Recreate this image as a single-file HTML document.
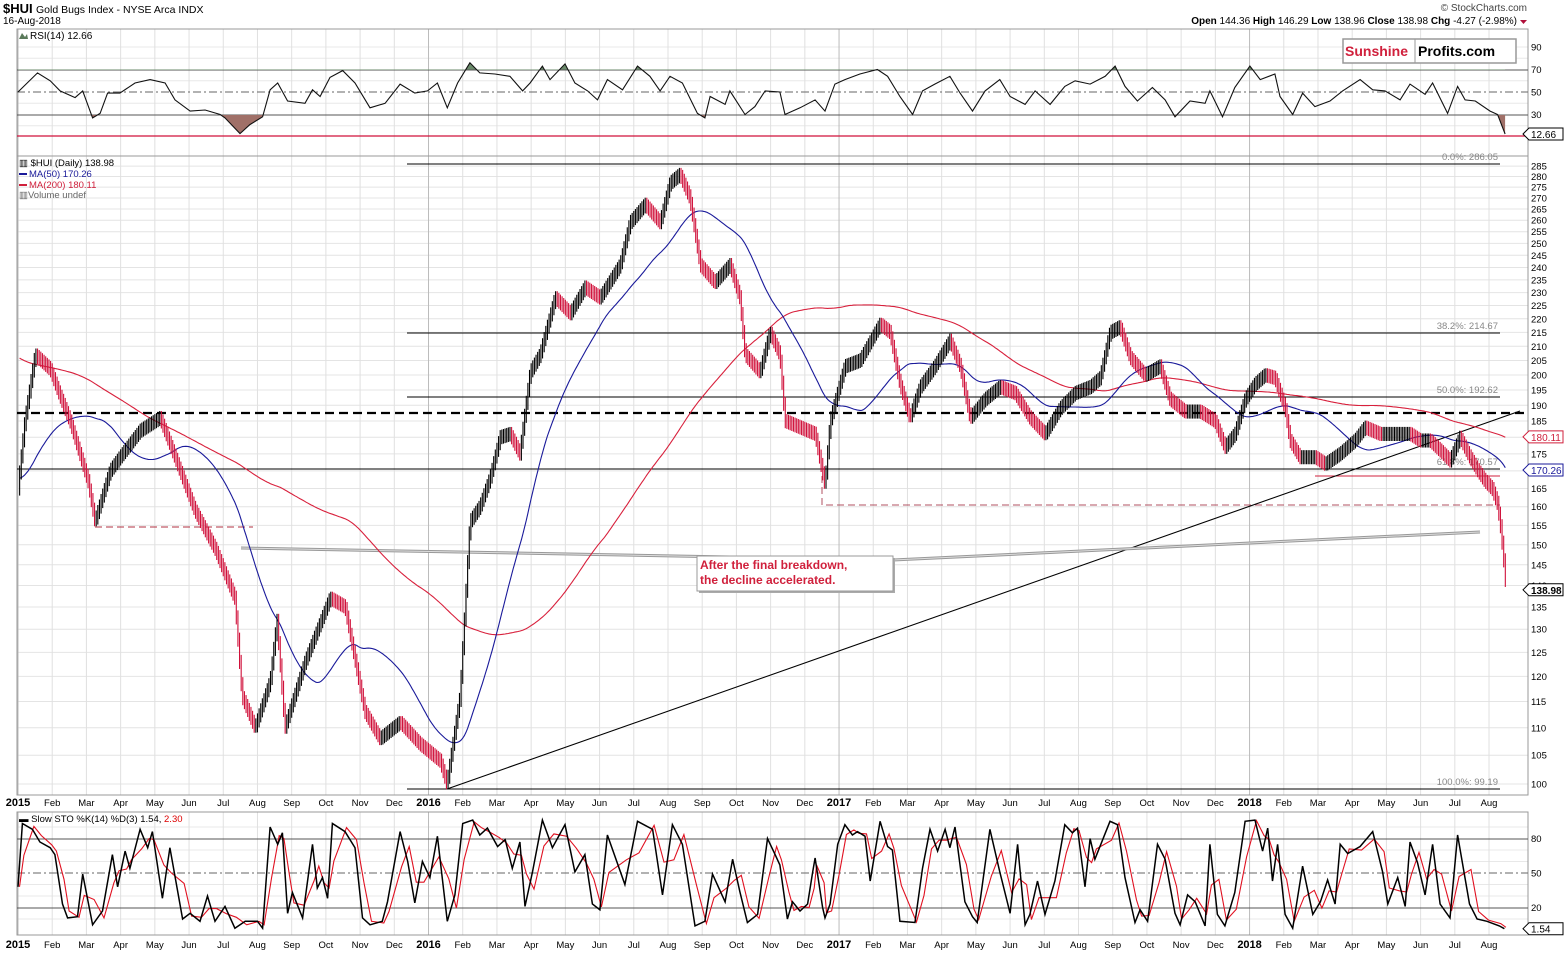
<!DOCTYPE html>
<html><head><meta charset="utf-8"><style>
html,body{margin:0;padding:0;background:#fff;}
svg{display:block;font-family:"Liberation Sans",sans-serif;}
</style></head><body>
<svg id="chart" width="1565" height="953" viewBox="0 0 1565 953" xmlns="http://www.w3.org/2000/svg">
<defs>
<clipPath id="clipBelow30"><rect x="17" y="115" width="1511" height="40"/></clipPath>
<clipPath id="clipAbove70"><rect x="17" y="29" width="1511" height="41"/></clipPath>
</defs>
<rect x="0" y="0" width="1565" height="953" fill="#fff"/>
<g>
<text x="3" y="13" font-size="13" font-weight="bold">$HUI</text>
<text x="36" y="13" font-size="10.5">Gold Bugs Index - NYSE Arca  INDX</text>
<text x="3" y="24" font-size="10">16-Aug-2018</text>
<text x="1527" y="11" font-size="10" text-anchor="end" fill="#444">© StockCharts.com</text>
<text x="1517" y="24" font-size="10" text-anchor="end"><tspan font-weight="bold">Open</tspan> 144.36 <tspan font-weight="bold">High</tspan> 146.29 <tspan font-weight="bold">Low</tspan> 138.96 <tspan font-weight="bold">Close</tspan> 138.98 <tspan font-weight="bold">Chg</tspan> -4.27 (-2.98%)</text>
<path d="M1520,20 L1527,20 L1523.5,24 Z" fill="#b0103a"/>
</g>
<g id="grid"></g>
<rect x="17" y="29" width="1511" height="127" fill="none" stroke="#999"/>
<rect x="17" y="156" width="1511" height="639" fill="none" stroke="#999"/>
<rect x="17" y="812" width="1511" height="123" fill="none" stroke="#999"/>
<g>
<line x1="17" x2="1528" y1="70" y2="70" stroke="#555"/>
<line x1="17" x2="1528" y1="92" y2="92" stroke="#666" stroke-dasharray="8,3,2,3"/>
<line x1="17" x2="1528" y1="115" y2="115" stroke="#555"/>
<line x1="17" x2="1528" y1="136" y2="136" stroke="#d0103a" stroke-width="1.3"/>
</g>
<g><path d="M19,39 L22,33 L25,37 L27,34 L28,39 Z" fill="#5a7a5a"/><text x="30" y="39" font-size="10">RSI(14) 12.66</text></g>
<g id="rsiG"></g>
<g>
<rect x="1343" y="39" width="173" height="24" fill="#fff" stroke="#999" stroke-width="1.5"/>
<line x1="1415" x2="1415" y1="39" y2="63" stroke="#999"/>
<text x="1345" y="56" font-size="14" font-weight="bold" fill="#d0203c">Sunshine</text>
<text x="1418" y="56" font-size="14" font-weight="bold" fill="#000">Profits.com</text>
</g>
<g>
<line x1="407" x2="1500" y1="164" y2="164" stroke="#000"/>
<line x1="407" x2="1500" y1="333" y2="333" stroke="#000"/>
<line x1="407" x2="1500" y1="397" y2="397" stroke="#000"/>
<line x1="17" x2="1500" y1="469" y2="469" stroke="#000"/>
<line x1="407" x2="1500" y1="789" y2="789" stroke="#000"/>
<text x="1498" y="160" font-size="9.5" fill="#888" text-anchor="end">0.0%: 286.05</text>
<text x="1498" y="329" font-size="9.5" fill="#888" text-anchor="end">38.2%: 214.67</text>
<text x="1498" y="393" font-size="9.5" fill="#888" text-anchor="end">50.0%: 192.62</text>
<text x="1498" y="465" font-size="9.5" fill="#888" text-anchor="end">61.8%: 170.57</text>
<text x="1498" y="785" font-size="9.5" fill="#888" text-anchor="end">100.0%: 99.19</text>
</g>
<line x1="17" x2="1528" y1="413" y2="413" stroke="#000" stroke-width="2.2" stroke-dasharray="9,5"/>
<line x1="95" x2="253" y1="527" y2="527" stroke="#b03040" stroke-dasharray="7,4"/>
<path d="M822,476 L822,505 L1500,505" fill="none" stroke="#b05060" stroke-dasharray="7,4"/>
<line x1="1315" x2="1500" y1="476" y2="476" stroke="#d0203c"/>
<line x1="447" y1="789" x2="1520" y2="411" stroke="#000" stroke-width="1.1"/>
<g>
<path d="M241,548 L893,560 L1480,532" fill="none" stroke="#999" stroke-width="3"/>
<path d="M241,548 L893,560 L1480,532" fill="none" stroke="#ddd" stroke-width="1"/>
</g>
<g id="priceG"></g>
<g>
<rect x="699" y="558" width="196" height="35" fill="#aaa"/>
<rect x="697" y="556" width="196" height="35" fill="#fff" stroke="#999"/>
<text x="700" y="569" font-size="12" font-weight="bold" fill="#d0203c">After the final breakdown,</text>
<text x="700" y="584" font-size="12" font-weight="bold" fill="#d0203c">the decline accelerated.</text>
</g>
<g font-size="9.5">
<text x="19" y="166">▥ $HUI (Daily) 138.98</text>
<line x1="19" x2="27" y1="174" y2="174" stroke="#1a1a9a" stroke-width="2"/><text x="29" y="177" fill="#1a1a9a">MA(50) 170.26</text>
<line x1="19" x2="27" y1="185" y2="185" stroke="#d0203c" stroke-width="2"/><text x="29" y="188" fill="#d0203c">MA(200) 180.11</text>
<text x="19" y="198" fill="#666">▥Volume undef</text>
</g>
<g>
<line x1="17" x2="1528" y1="839" y2="839" stroke="#555"/>
<line x1="17" x2="1528" y1="873" y2="873" stroke="#666" stroke-dasharray="8,3,2,3"/>
<line x1="17" x2="1528" y1="908" y2="908" stroke="#555"/>
</g>
<text x="19" y="822" font-size="9.5">▬ Slow STO %K(14) %D(3) 1.54, <tspan fill="#d00">2.30</tspan></text>
<g id="stochG"></g>
<g id="axisG"></g>
</svg>
<script>
const priceMonths=[-12,-10,-8,-6,-4,-2,-1,0,0.2,0.5,0.94,1.23,1.52,2.05,2.25,2.69,2.98,3.57,4.15,4.59,5.17,5.76,6.34,6.55,6.93,7.37,7.57,7.8,8.39,9.12,9.56,10.14,10.58,11.17,11.75,12.34,12.54,12.92,13.21,13.5,13.8,14.09,14.38,14.67,14.97,15.26,15.7,16.14,16.57,17.01,17.6,17.89,18.33,18.77,19.06,19.35,19.64,19.94,20.37,20.81,21.1,21.25,21.69,21.98,22.27,22.42,22.86,23.3,23.59,23.74,24.03,24.17,24.61,25.2,25.49,25.78,26.07,26.37,26.8,27.24,27.54,27.83,28.27,28.7,29.14,29.58,30.02,30.46,30.9,31.34,31.63,31.92,32.21,32.51,32.94,33.38,33.67,34.11,34.55,34.99,35.28,35.57,35.87,36.16,36.45,36.74,37.04,37.18,37.47,37.91,38.21,38.64,39.08,39.37,39.81,40.25,40.69,40.98,41.27,41.57,41.86,42.15,42.44,42.68,42.89,43.09,43.24,43.32,43.41,43.5];
const priceClose=[205,250,215,250,205,160,175,165,185,207,202,193,185,167,156,170,174,182,186,174,159,149,137,116,110,119,132,110,123,137,135,113,108,111,107,104,100,116,156,160,168,180,181,175,201,207,228,222,232,228,241,259,267,259,277,281,270,241,234,241,228,207,201,215,207,185,183,181,166,185,197,203,205,218,215,197,186,196,203,212,203,186,192,196,194,186,181,189,194,196,199,215,217,206,200,203,192,188,188,185,177,181,192,197,200,199,189,179,174,174,172,175,179,183,181,181,181,179,179,176,173,180,174,170,167,165,161,156,148,139];
const rsiMonths=[0,0.57,0.94,1.23,1.67,1.89,2.18,2.4,2.62,2.98,3.42,3.86,4.3,4.59,5.03,5.47,5.91,6.05,6.49,6.78,7.15,7.37,7.59,7.88,8.39,8.61,8.83,9.12,9.49,9.85,10.29,10.73,11.17,11.6,11.97,12.26,12.55,12.85,13.21,13.5,13.94,14.38,14.75,14.97,15.33,15.55,15.99,16.28,16.65,16.94,17.23,17.67,18.11,18.47,18.77,19.06,19.42,19.86,20.08,20.23,20.67,20.81,21.25,21.54,21.84,22.27,22.42,22.86,23.3,23.59,23.88,24.17,24.61,25.12,25.42,25.78,26.15,26.44,26.8,27.24,27.54,27.9,28.27,28.7,29,29.44,29.73,30.17,30.6,30.9,31.34,31.78,32.07,32.36,32.72,33.16,33.53,33.82,34.26,34.7,34.84,35.21,35.57,36.01,36.31,36.74,36.89,37.26,37.55,37.91,38.35,38.72,39.23,39.6,39.96,40.4,40.69,41.13,41.35,41.79,42.08,42.3,42.6,43.03,43.25,43.47];
const rsiValues=[50,67,60,51,45,51,27,31,49,49,58,61,58,43,33,34,30,27,13,21,28,52,58,42,40,52,46,63,69,58,36,40,57,49,51,58,36,58,76,67,66,64,51,58,73,61,75,58,51,43,61,52,73,64,51,64,58,31,27,46,39,51,30,37,51,50,30,36,43,33,57,61,66,70,64,46,30,51,57,64,49,33,51,61,46,39,51,39,55,60,57,64,73,55,42,54,43,28,42,40,51,28,54,73,61,66,46,30,49,37,42,51,61,52,51,43,57,48,58,31,55,43,42,33,30,12.66];
const stoMonths=[0,0.13,0.42,0.64,0.94,1.08,1.3,1.45,1.74,1.89,2.18,2.47,2.76,2.91,3.13,3.27,3.57,3.79,3.93,4.22,4.44,4.81,5.03,5.32,5.54,5.76,6.05,6.34,6.64,7,7.15,7.37,7.59,7.73,7.88,8.02,8.32,8.61,8.75,8.9,9.05,9.19,9.56,9.85,10.07,10.29,10.65,10.8,11.17,11.39,11.6,11.82,12.04,12.26,12.55,12.77,13,13.29,13.5,13.72,14.02,14.24,14.45,14.67,14.82,15.04,15.33,15.62,15.99,16.28,16.57,16.79,17.01,17.23,17.74,18.11,18.55,18.84,19.13,19.42,19.79,20.08,20.3,20.67,20.89,21.1,21.32,21.62,21.91,22.13,22.27,22.49,22.64,22.86,23.08,23.23,23.3,23.52,23.59,23.74,23.96,24.17,24.39,24.54,24.76,24.91,25.2,25.42,25.56,25.78,26.22,26.44,26.66,26.88,27.1,27.24,27.39,27.68,27.9,28.04,28.41,28.7,29,29.22,29.44,29.58,29.8,30.02,30.31,30.6,30.82,30.97,31.19,31.34,31.48,31.92,32.14,32.36,32.65,32.8,33.02,33.31,33.53,33.82,33.97,34.19,34.41,34.7,34.84,35.06,35.28,35.57,35.87,36.16,36.38,36.53,36.67,36.82,37.04,37.26,37.55,37.85,38.07,38.28,38.5,38.65,38.87,39.23,39.6,39.89,40.04,40.33,40.55,40.69,40.91,41.13,41.35,41.57,41.86,42.08,42.43,42.65,42.94,43.3,43.45];
const stoK=[38,93,88,77,72,66,23,11,12,49,5,17,66,38,69,54,88,72,86,28,72,10,15,8,30,8,21,2,8,8,2,90,75,85,15,33,11,75,37,46,28,93,86,72,11,5,8,25,86,60,24,60,46,82,8,31,93,96,83,89,73,79,54,77,21,51,96,72,92,51,66,23,18,83,40,95,88,31,92,75,4,8,49,25,62,34,7,14,80,66,57,10,25,17,23,51,63,20,11,23,75,92,83,86,82,43,95,73,70,8,7,54,88,69,88,72,90,25,12,7,88,51,15,75,5,14,43,14,43,92,85,89,38,80,62,95,92,46,7,18,8,75,62,15,5,31,25,4,75,14,4,33,95,96,69,89,43,75,14,2,56,14,25,44,23,75,67,73,86,51,23,46,21,77,59,31,75,23,11,83,23,10,8,4,1.54];
const monthLabels=["Jan","Feb","Mar","Apr","May","Jun","Jul","Aug","Sep","Oct","Nov","Dec"];
const priceTicks=[100,105,110,115,120,125,130,135,140,145,150,155,160,165,170,175,180,185,190,195,200,205,210,215,220,225,230,235,240,245,250,255,260,265,270,275,280,285];
const rsiTicks=[90,70,50,30];
const stoTicks=[80,50,20];

const NS="http://www.w3.org/2000/svg";
const X=m=>18+m*34.21;
const YP=p=>784-590*Math.log(p/100);
const YR=v=>92-(v-50)*1.125;
const YS=v=>873-(v-50)*1.15;
function mk(tag,attrs,parent){const e=document.createElementNS(NS,tag);for(const k in attrs)e.setAttribute(k,attrs[k]);parent.appendChild(e);return e;}
function interp(ms,vs,m){if(m<=ms[0])return vs[0];for(let i=1;i<ms.length;i++){if(m<=ms[i]){const f=(m-ms[i-1])/(ms[i]-ms[i-1]);return vs[i-1]*Math.pow(vs[i]/vs[i-1],f);}}return vs[vs.length-1];}

const grid=document.getElementById('grid');
for(const p of priceTicks){const l=mk('line',{x1:17,x2:1528,y1:YP(p),y2:YP(p),stroke:'#e4e4e4'},grid);

}
for(const v of [90,80,60,40,20]){const l=mk('line',{x1:17,x2:1528,y1:YR(v),y2:YR(v),stroke:'#e8e8e8'},grid);

}
for(const v of [90,70,60,40,30,10]){const l=mk('line',{x1:17,x2:1528,y1:YS(v),y2:YS(v),stroke:'#e8e8e8'},grid);

}
const axisG=document.getElementById('axisG');
for(let k=0;k<=43;k++){const x=X(k);const yr=k%12===0;
for(const [a,b] of [[29,156],[156,795],[812,935]]){const l=mk('line',{x1:x,x2:x,y1:a,y2:b,stroke:yr?'#bbb':'#e0e0e0'},grid);

}
const lab=yr?String(2015+k/12):monthLabels[k%12];
for(const y of [806,948]){const t=mk('text',{x:x,y:y,'font-size':yr?11:9.5,'font-weight':yr?'bold':'normal','text-anchor':'middle'},axisG);t.textContent=lab;

}}
for(const p of priceTicks){const t=mk('text',{x:1531,y:YP(p)+3.5,'font-size':9.5},axisG);t.textContent=p;

}
for(const v of rsiTicks){const t=mk('text',{x:1531,y:YR(v)+3.5,'font-size':9.5},axisG);t.textContent=v;

}
for(const v of stoTicks){const t=mk('text',{x:1531,y:YS(v)+3.5,'font-size':9.5},axisG);t.textContent=v;

}
function valueTag(y,txt,col,bold,name){const g=mk('g',{},axisG);


mk('path',{d:`M1523,${y} L1529,${y-6} L1563,${y-6} L1563,${y+6} L1529,${y+6} Z`,fill:'#fff',stroke:col},g);
const t=mk('text',{x:1531,y:y+4,'font-size':10,'font-weight':bold?'bold':'normal',fill:col},g);t.textContent=txt;}

const STEP=1/21;const days=[];
for(let m=-12;m<=43.5+1e-9;m+=STEP)days.push({m:m,v:interp(priceMonths,priceClose,m)});
function ma(n){return days.map((d,i)=>{if(i<n-1)return null;let s=0;for(let j=i-n+1;j<=i;j++)s+=days[j].v;return s/n;});}
const ma50=ma(50),ma200=ma(200);
const priceG=document.getElementById('priceG');
function maPath(arr,col,name){let d='';days.forEach((p,i)=>{if(p.m<0||arr[i]==null)return;d+=(d?'L':'M')+X(p.m).toFixed(1)+','+YP(arr[i]).toFixed(1);});
const e=mk('path',{d:d,fill:'none',stroke:col,'stroke-width':1.1},priceG);

}
maPath(ma200,'#d8203c','ma200-line');
maPath(ma50,'#1a1a9a','ma50-line');
for(let i=1;i<days.length;i++){const d=days[i];if(d.m<0)continue;const pv=days[i-1].v;
const hi=Math.max(pv,d.v)*1.012,lo=Math.min(pv,d.v)/1.012;
const b=mk('line',{x1:X(d.m),x2:X(d.m),y1:YP(hi),y2:YP(lo),stroke:d.v<pv?'#d0103a':'#000','stroke-width':1.1},priceG);

}

const rsiG=document.getElementById('rsiG');
let rd='';rsiMonths.forEach((m,i)=>{rd+=(i?'L':'M')+X(m).toFixed(1)+','+YR(rsiValues[i]).toFixed(1);});
const last=X(rsiMonths[rsiMonths.length-1]),first=X(rsiMonths[0]);
const fb=mk('path',{d:rd+`L${last},${YR(30)}L${first},${YR(30)}Z`,fill:'#a07068','clip-path':'url(#clipBelow30)'},rsiG);


const fa=mk('path',{d:rd+`L${last},${YR(70)}L${first},${YR(70)}Z`,fill:'#6a8a6a','clip-path':'url(#clipAbove70)'},rsiG);


const rl=mk('path',{d:rd,fill:'none',stroke:'#111','stroke-width':1.1},rsiG);



const stochG=document.getElementById('stochG');
const stoD=stoK.map((v,i)=>{const a=stoK.slice(Math.max(0,i-1),i+1);return a.reduce((s,x)=>s+x,0)/a.length;});
let dd='',kd='';stoMonths.forEach((m,i)=>{dd+=(i?'L':'M')+(X(m)+1.5).toFixed(1)+','+YS(stoD[i]).toFixed(1);kd+=(i?'L':'M')+X(m).toFixed(1)+','+YS(stoK[i]).toFixed(1);});
const dl=mk('path',{d:dd,fill:'none',stroke:'#e01020','stroke-width':1.1},stochG);


const kl=mk('path',{d:kd,fill:'none',stroke:'#000','stroke-width':1.5},stochG);



valueTag(YR(12.66),'12.66','#000',false,'rsi-value-tag');
valueTag(YP(180.11),'180.11','#d0203c',false,'ma200-value-tag');
valueTag(YP(170.26),'170.26','#1a1a9a',false,'ma50-value-tag');
valueTag(YP(138.98),'138.98','#000',true,'close-value-tag');
valueTag(YS(1.54),'1.54','#000',false,'stoch-value-tag');
</script>
</body></html>
